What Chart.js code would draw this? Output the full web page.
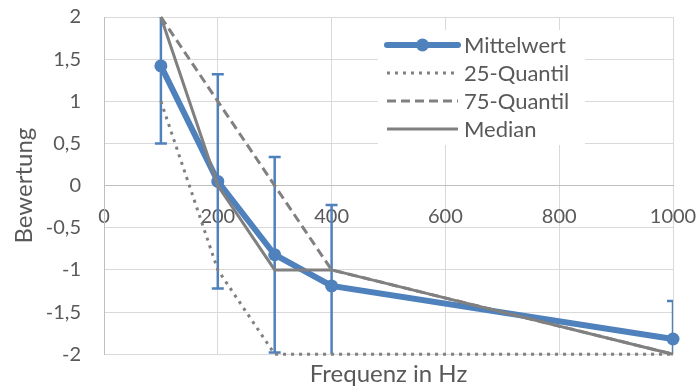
<!DOCTYPE html>
<html>
<head>
<meta charset="utf-8">
<script src="https://cdn.jsdelivr.net/npm/chart.js@4/dist/chart.umd.min.js"></script>
<style>
    html, body { margin: 0; padding: 0; background: #fff; }
    #wrap { width: 698px; height: 390px; }
</style>
</head>
<body>
<div id="wrap"><canvas id="chart"></canvas></div>
<script>
// Frequencies (Hz) and series values
const frequenzen = [100, 200, 300, 400, 1000];
const mittelwert = [1.42, 0.05, -0.82, -1.19, -1.82];
const fehler = [0.92, 1.27, 1.16, 0.96, 0.45];
const quantil25 = [1, -1, -2, -2, -2];
const quantil75 = [2, 1, 0, -1, -2];
const median = [2, 0, -1, -1, -2];

const BLUE = '#4F81BD';
const GREY = '#808080';
const TEXT = '#595959';
const FONT = 'Lato';

const toPoints = values => values.map((v, i) => ({ x: frequenzen[i], y: v }));
const deComma = v => String(v).replace('.', ',');

/**
 * Draws symmetric error bars for the dataset that carries `errors`
 */
const errorBarPlugin = {
    id: 'errorBars',
    beforeDatasetDraw(chart, args) {
        const ds = chart.data.datasets[args.index];
        if (!ds.errors) return;
        const { ctx, chartArea, scales: { x, y } } = chart;
        ctx.save();
        ctx.beginPath();
        ctx.rect(chartArea.left, chartArea.top, chartArea.right - chartArea.left, chartArea.bottom - chartArea.top);
        ctx.clip();
        ctx.strokeStyle = ds.borderColor;
        ctx.lineWidth = 2.5;
        ds.data.forEach((p, i) => {
            const px = x.getPixelForValue(p.x);
            const top = y.getPixelForValue(p.y + ds.errors[i]);
            const bottom = y.getPixelForValue(p.y - ds.errors[i]);
            ctx.beginPath();
            ctx.moveTo(px, top);
            ctx.lineTo(px, bottom);
            ctx.moveTo(px - 6, top);
            ctx.lineTo(px + 6, top);
            ctx.moveTo(px - 6, bottom);
            ctx.lineTo(px + 6, bottom);
            ctx.stroke();
        });
        ctx.restore();
    }
};

/**
 * Legend box inside the plot area (Excel style)
 */
const innerLegendPlugin = {
    id: 'innerLegend',
    afterDraw(chart, args, opts) {
        const { ctx } = chart;
        ctx.save();
        ctx.fillStyle = '#fff';
        ctx.fillRect(opts.left, opts.top, opts.width, opts.height);
        ctx.font = `${opts.fontSize}px ${FONT}`;
        ctx.textBaseline = 'middle';
        chart.data.datasets.forEach((ds, i) => {
            const cy = opts.top + opts.firstRow + i * opts.rowHeight;
            const x0 = opts.left + 9;
            const x1 = x0 + opts.sample;
            ctx.strokeStyle = ds.borderColor;
            ctx.lineWidth = ds.borderWidth;
            ctx.lineCap = ds.borderCapStyle || 'butt';
            ctx.setLineDash(ds.borderDash || []);
            ctx.beginPath();
            ctx.moveTo(x0, cy);
            ctx.lineTo(x1, cy);
            ctx.stroke();
            ctx.setLineDash([]);
            if (ds.pointRadius > 0) {
                ctx.fillStyle = ds.pointBackgroundColor;
                ctx.beginPath();
                ctx.arc((x0 + x1) / 2, cy, ds.pointRadius, 0, Math.PI * 2);
                ctx.fill();
            }
            ctx.fillStyle = TEXT;
            ctx.fillText(ds.label, x1 + 6, cy + 1);
        });
        ctx.restore();
    }
};

new Chart(document.getElementById('chart').getContext('2d'), {
    type: 'line',
    data: {
        datasets: [
            {
                label: 'Mittelwert',
                data: toPoints(mittelwert),
                errors: fehler,
                borderColor: BLUE,
                borderWidth: 6,
                borderCapStyle: 'round',
                pointRadius: 6.5,
                pointBackgroundColor: BLUE,
                pointBorderWidth: 0,
                order: 4
            },
            {
                label: '25-Quantil',
                data: toPoints(quantil25),
                borderColor: GREY,
                borderWidth: 3,
                borderDash: [3, 5],
                pointRadius: 0,
                order: 3
            },
            {
                label: '75-Quantil',
                data: toPoints(quantil75),
                borderColor: GREY,
                borderWidth: 3,
                borderDash: [9, 5],
                pointRadius: 0,
                order: 2
            },
            {
                label: 'Median',
                data: toPoints(median),
                borderColor: GREY,
                borderWidth: 3,
                pointRadius: 0,
                order: 1
            }
        ]
    },
    options: {
        responsive: true,
        maintainAspectRatio: false,
        animation: false,
        clip: false,
        elements: { line: { tension: 0 } },
        layout: { padding: { left: 10, top: 17, right: 25, bottom: 0 } },
        scales: {
            x: {
                type: 'linear',
                position: { y: 0 },
                min: 0,
                max: 1000,
                grid: { color: '#D9D9D9', lineWidth: 1, drawTicks: false },
                border: { color: '#BFBFBF', width: 1 },
                ticks: {
                    stepSize: 200,
                    padding: 19,
                    color: TEXT,
                    font: { family: FONT, size: 20 },
                    maxRotation: 0,
                    callback: v => deComma(v)
                },
                // the axis sits inside the plot, so it must not push the plot area
                afterFit(scale) {
                    scale.paddingLeft = 0;
                    scale.paddingRight = 0;
                }
            },
            y: {
                min: -2,
                max: 2,
                grid: { color: '#D9D9D9', lineWidth: 1, drawTicks: false },
                border: { color: '#BFBFBF', width: 1 },
                ticks: {
                    stepSize: 0.5,
                    padding: 23,
                    color: TEXT,
                    font: { family: FONT, size: 20 },
                    callback: v => deComma(v)
                },
                title: {
                    display: true,
                    text: 'Bewertung',
                    color: TEXT,
                    font: { family: FONT, size: 24 },
                    padding: { top: 0, bottom: 8 }
                },
                afterFit(scale) {
                    scale.width = 94;
                    scale.paddingTop = 12;
                    scale.paddingBottom = 12;
                }
            }
        },
        plugins: {
            legend: { display: false },
            tooltip: { enabled: false },
            title: {
                display: true,
                text: 'Frequenz in Hz',
                position: 'bottom',
                fullSize: false,
                color: TEXT,
                font: { family: FONT, size: 24, weight: 'normal' },
                padding: { top: 6, bottom: 1 }
            },
            innerLegend: {
                left: 378,
                top: 30,
                width: 207,
                height: 115,
                firstRow: 15,
                rowHeight: 28,
                sample: 71,
                fontSize: 22
            }
        }
    },
    plugins: [errorBarPlugin, innerLegendPlugin]
});
</script>
</body>
</html>
